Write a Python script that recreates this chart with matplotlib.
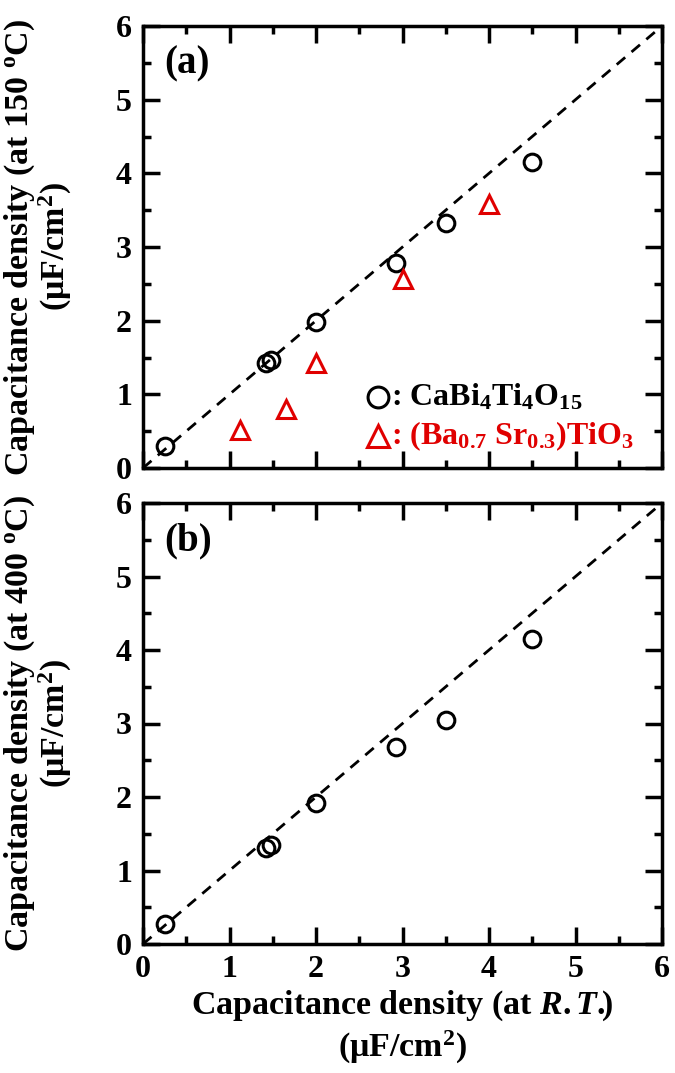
import numpy as np
import matplotlib.pyplot as plt

plt.rcParams['font.family'] = ['Liberation Serif', 'DejaVu Serif']
plt.rcParams['font.weight'] = 'bold'
plt.rcParams['axes.labelweight'] = 'bold'
plt.rcParams['mathtext.fontset'] = 'custom'
plt.rcParams['mathtext.rm'] = 'Liberation Serif:bold'
plt.rcParams['mathtext.bf'] = 'Liberation Serif:bold'
plt.rcParams['mathtext.it'] = 'Liberation Serif:italic:bold'
plt.rcParams['mathtext.default'] = 'rm'

# datos
cbt_rt = [0.25, 1.42, 1.48, 2.0, 2.93, 3.5, 4.5]
cbt_150 = [0.30, 1.43, 1.47, 1.98, 2.78, 3.32, 4.15]
cbt_400 = [0.27, 1.31, 1.35, 1.92, 2.68, 3.05, 4.15]
bst_rt = [1.12, 1.65, 2.0, 3.0, 4.0]
bst_150 = [0.52, 0.80, 1.42, 2.57, 3.58]
ticks = [0, 1, 2, 3, 4, 5, 6]

fig = plt.figure(figsize=(6.75, 10.73), dpi=100)
ax1 = fig.add_axes([143/675, 1-468/1073, 519/675, 442/1073])
ax2 = fig.add_axes([143/675, 1-944/1073, 519/675, 441/1073])

red = '#e00000'
for ax in (ax1, ax2):
    ax.plot([0, 6], [0, 6], color='black', ls=(0, (4, 3)), lw=2, zorder=1)
    ax.set_xlim(0, 6)
    ax.set_ylim(0, 6)
    ax.set_xticks(ticks)
    ax.set_yticks(ticks)
    ax.set_xticks(np.arange(0.5, 6, 1), minor=True)
    ax.set_yticks(np.arange(0.5, 6, 1), minor=True)
    ax.tick_params(which='both', direction='in', top=True, right=True, width=2.5)
    ax.tick_params(which='major', length=12, labelsize=23, pad=8)
    ax.tick_params(which='minor', length=6)
    for s in ax.spines.values():
        s.set_linewidth(2.5)

ax1.plot(cbt_rt, cbt_150, 'o', mfc='none', mec='black', ms=12, mew=2.2, zorder=3)
ax1.plot(bst_rt, bst_150, '^', mfc='none', mec=red, ms=13, mew=2.2, zorder=3)
ax2.plot(cbt_rt, cbt_400, 'o', mfc='none', mec='black', ms=12, mew=2.2, zorder=3)
ax1.tick_params(labelbottom=False)

ax1.text(0.04, 0.955, '(a)', transform=ax1.transAxes, fontsize=28, va='top', ha='left')
ax2.text(0.04, 0.955, '(b)', transform=ax2.transAxes, fontsize=28, va='top', ha='left')

# leyenda manual
ax1.plot([0.452], [0.16], 'o', transform=ax1.transAxes, mfc='none', mec='black', ms=15, mew=2.2, clip_on=False)
ax1.text(0.478, 0.16, ': CaBi$_4$Ti$_4$O$_{15}$', transform=ax1.transAxes, fontsize=23, va='center')
ax1.plot([0.452], [0.072], '^', transform=ax1.transAxes, mfc='none', mec=red, ms=16, mew=2.2, clip_on=False)
ax1.text(0.478, 0.072, ': (Ba$_{0.7}$ Sr$_{0.3}$)TiO$_3$', transform=ax1.transAxes, fontsize=23,
         va='center', color=red)

ax1.set_ylabel('Capacitance density (at 150 $^{\\rm o}$C)\n(\u03bcF/cm$^2$)', fontsize=24.5,
               linespacing=1.0)
ax2.set_ylabel('Capacitance density (at 400 $^{\\rm o}$C)\n(\u03bcF/cm$^2$)', fontsize=24.5,
               linespacing=1.0)
ax2.set_xlabel('Capacitance density (at $\\it{R.T.}\\!\\!$)\n(\u03bcF/cm$^2$)', fontsize=24.5,
               linespacing=1.2)
ax1.yaxis.set_label_coords(-0.133, 0.5)
ax2.yaxis.set_label_coords(-0.133, 0.5)
ax2.xaxis.set_label_coords(0.5, -0.102)

fig.savefig('out.png', dpi=100)
